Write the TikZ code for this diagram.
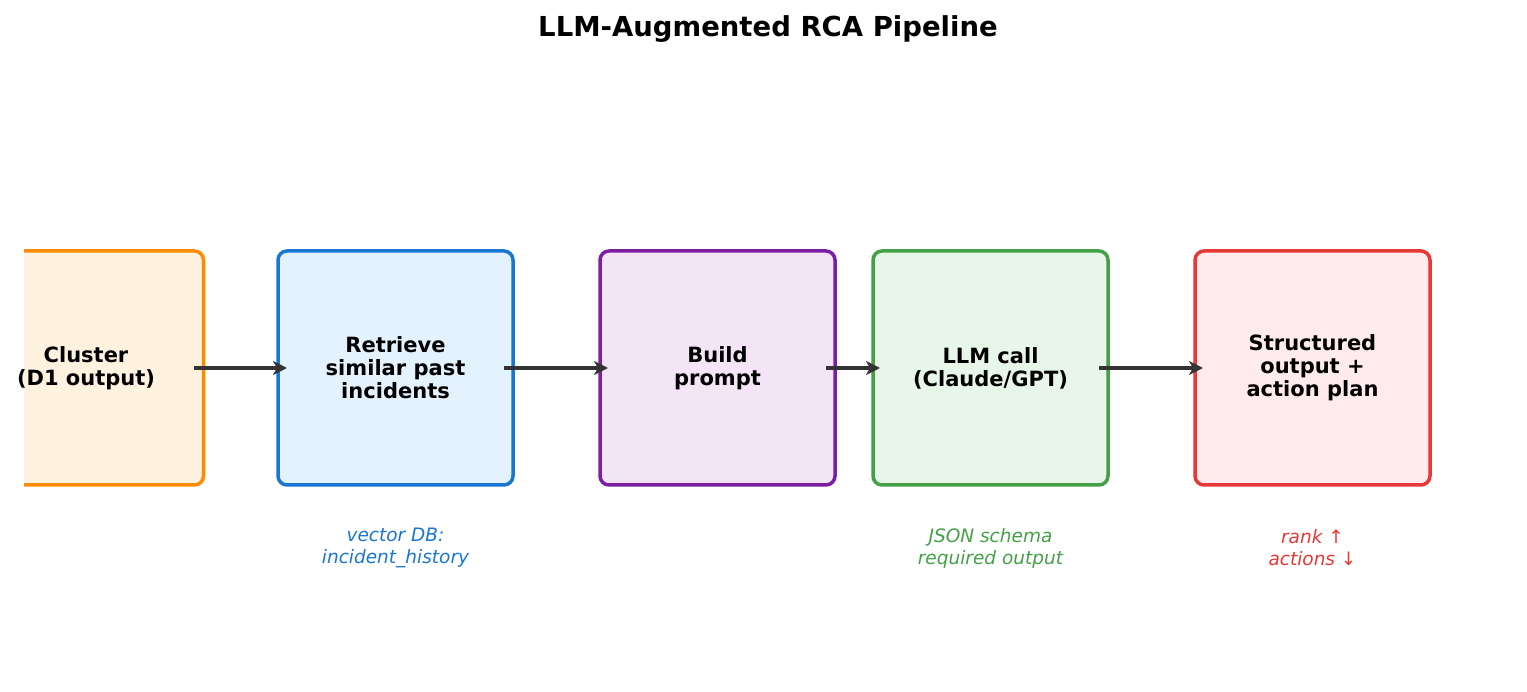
\documentclass[tikz,border=0pt]{standalone}
\usepackage{fontspec}
\setmainfont{DejaVu Sans}
\usetikzlibrary{arrows.meta}
\begin{document}
\begin{tikzpicture}[x=1pt,y=-1pt,
 box/.style={draw,line width=3.5pt,rounded corners=9pt,minimum width=235pt,minimum height=234pt,inner sep=0pt,align=center,font=\fontsize{21}{23}\selectfont\bfseries},
 arr/.style={draw=black!80,line width=3.5pt,-{Stealth[length=14pt,width=14pt,inset=4pt]}},
 note/.style={align=center,font=\fontsize{18.5}{22}\selectfont\itshape}]
\useasboundingbox (0,0) rectangle (1527,692);
\node[font=\fontsize{27.5}{30}\selectfont\bfseries] (t) at (768,29) {LLM-Augmented RCA Pipeline};
\begin{scope}
\clip (24,0) rectangle (1527,692);
\node[box,draw={rgb,255:red,255;green,140;blue,0},fill={rgb,255:red,255;green,243;blue,224}] (c) at (86,368) {};
\end{scope}
\node[font=\fontsize{21}{23}\selectfont\bfseries,align=center] (ct) at (86,368) {Cluster\\(D1 output)};
\node[box,draw={rgb,255:red,25;green,118;blue,210},fill={rgb,255:red,227;green,242;blue,253}] (r) at (395.5,368) {Retrieve\\similar past\\incidents};
\node[box,draw={rgb,255:red,123;green,31;blue,162},fill={rgb,255:red,243;green,229;blue,245}] (b) at (717.5,368) {Build\\prompt};
\node[box,draw={rgb,255:red,67;green,160;blue,71},fill={rgb,255:red,232;green,245;blue,233}] (l) at (990.5,368) {LLM call\\(Claude/GPT)};
\node[box,draw={rgb,255:red,229;green,57;blue,53},fill={rgb,255:red,255;green,235;blue,238}] (s) at (1312.5,368) {Structured\\output +\\action plan};
\coordinate (a1s) at (194,368); \coordinate (a1e) at (287,368);
\coordinate (a2s) at (504,368); \coordinate (a2e) at (608,368);
\coordinate (a3s) at (826,368); \coordinate (a3e) at (880,368);
\coordinate (a4s) at (1099,368); \coordinate (a4e) at (1203,368);
\draw[arr] (a1s) -- (a1e);
\draw[arr] (a2s) -- (a2e);
\draw[arr] (a3s) -- (a3e);
\draw[arr] (a4s) -- (a4e);
\node[note,text={rgb,255:red,25;green,118;blue,210}] (n1) at (395.5,548) {vector DB:\\incident\_history};
\node[note,text={rgb,255:red,67;green,160;blue,71}] (n2) at (990.5,548) {JSON schema\\required output};
\node[note,text={rgb,255:red,229;green,57;blue,53}] (n3) at (1312.5,548) {rank ↑\\actions ↓};
\end{tikzpicture}
\end{document}
